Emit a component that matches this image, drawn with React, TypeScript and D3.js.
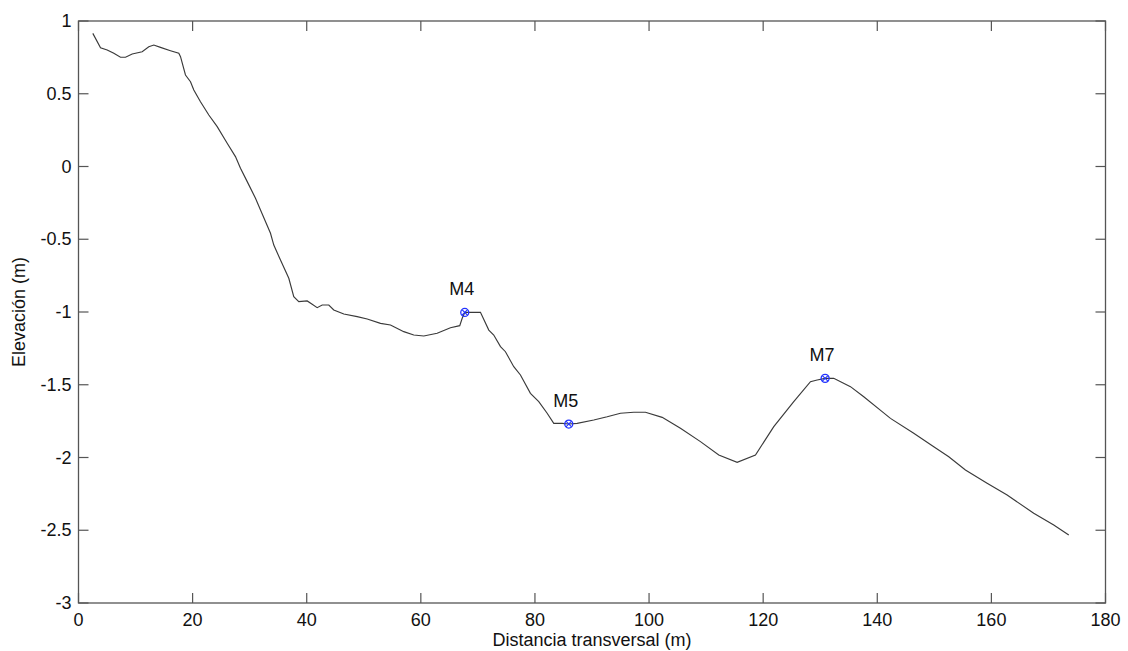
import React from "react";
import * as d3 from "d3";

const distance = [
  2.51, 3.86, 5.03, 6.19, 7.36, 8.24, 9.41, 11.16, 12.32, 13.2, 14.37, 16.12, 17.58, 17.88,
  18.75, 19.63, 20.21, 21.38, 22.84, 24.31, 26.06, 27.51, 28.39, 29.57, 31.02, 31.9, 33.65,
  34.23, 35.4, 36.86, 37.73, 38.61, 40.08, 40.96, 41.83, 42.71, 43.87, 44.74, 46.5, 48.84,
  50.6, 52.93, 54.68, 57.01, 58.76, 60.52, 62.86, 65.19, 66.82, 67.25, 67.7, 69.28, 70.45,
  71.91, 72.78, 73.96, 74.83, 76.29, 77.46, 79.21, 80.67, 82.14, 83.3, 84.77, 85.93, 87.4,
  90.31, 92.66, 94.99, 97.32, 99.37, 102.3, 105.5, 109.01, 112.22, 115.44, 118.65, 121.86,
  125.36, 128.29, 129.46, 130.86, 132.37, 135.3, 137.63, 140.85, 142.31, 146.39, 149.9,
  152.53, 155.45, 159.25, 162.76, 167.42, 170.93, 173.56,
];
const elevation = [
  0.915, 0.816, 0.801, 0.778, 0.751, 0.751, 0.773, 0.789, 0.823, 0.835, 0.819, 0.796, 0.778,
  0.755, 0.629, 0.583, 0.526, 0.445, 0.354, 0.274, 0.16, 0.068, -0.012, -0.104, -0.219,
  -0.299, -0.459, -0.54, -0.643, -0.768, -0.895, -0.929, -0.924, -0.947, -0.97, -0.952,
  -0.952, -0.986, -1.014, -1.032, -1.048, -1.078, -1.089, -1.135, -1.158, -1.165, -1.146,
  -1.108, -1.094, -1.043, -1.003, -1.003, -1.002, -1.124, -1.158, -1.238, -1.273, -1.376,
  -1.433, -1.559, -1.616, -1.696, -1.765, -1.765, -1.77, -1.765, -1.742, -1.72, -1.696,
  -1.689, -1.689, -1.724, -1.799, -1.891, -1.983, -2.033, -1.983, -1.788, -1.616, -1.479,
  -1.467, -1.456, -1.456, -1.513, -1.582, -1.685, -1.731, -1.834, -1.926, -1.995, -2.086,
  -2.177, -2.258, -2.383, -2.464, -2.533,
];

const markerNames = ["M4", "M5", "M7"];
const markerX = [67.7, 85.93, 130.86];
const markerY = [-1.003, -1.77, -1.456];

const xTicks = [0, 20, 40, 60, 80, 100, 120, 140, 160, 180];
const yTicks = [1, 0.5, 0, -0.5, -1, -1.5, -2, -2.5, -3];

const W = 1128;
const H = 651;
const M = { left: 78.5, right: 1105.5, top: 21, bottom: 603 };
const FONT = "'Liberation Sans', Arial, Helvetica, sans-serif";

export default function App() {
  const x = d3.scaleLinear().domain([0, 180]).range([M.left, M.right]);
  const y = d3.scaleLinear().domain([-3, 1]).range([M.bottom, M.top]);
  const pts = distance.map((d, i) => [d, elevation[i]] as [number, number]);
  const line = d3
    .line<[number, number]>()
    .x((d) => x(d[0]))
    .y((d) => y(d[1]));
  const axisColor = "#555";
  const tickLen = 10;
  const fs = 18;
  return (
    <svg
      width={W}
      height={H}
      style={{ position: "absolute", left: 0, top: 0, background: "#fff" }}
      fontFamily={FONT}
    >
      <rect x={0} y={0} width={W} height={H} fill="#fff" />
      {xTicks.map((t) => (
        <g key={"xt" + t}>
          <line x1={x(t)} x2={x(t)} y1={M.bottom} y2={M.bottom - tickLen} stroke={axisColor} strokeWidth={1.2} />
          <line x1={x(t)} x2={x(t)} y1={M.top} y2={M.top + tickLen} stroke={axisColor} strokeWidth={1.2} />
          <text x={x(t)} y={M.bottom + 23} fontSize={fs} textAnchor="middle" fill="#111">
            {t}
          </text>
        </g>
      ))}
      {yTicks.map((t) => (
        <g key={"yt" + t}>
          <line x1={M.left} x2={M.left + tickLen} y1={y(t)} y2={y(t)} stroke={axisColor} strokeWidth={1.2} />
          <line x1={M.right} x2={M.right - tickLen} y1={y(t)} y2={y(t)} stroke={axisColor} strokeWidth={1.2} />
          <text x={M.left - 7} y={y(t) + 6} fontSize={fs} textAnchor="end" fill="#111">
            {t}
          </text>
        </g>
      ))}
      <rect
        x={M.left}
        y={M.top}
        width={M.right - M.left}
        height={M.bottom - M.top}
        fill="none"
        stroke={axisColor}
        strokeWidth={1.3}
      />
      <path d={line(pts) || ""} fill="none" stroke="#3a3a3a" strokeWidth={1.15} />
      {markerNames.map((n, i) => {
        const cx = x(markerX[i]);
        const cy = y(markerY[i]);
        const r = 4;
        const k = r * 0.7;
        return (
          <g key={n}>
            <circle cx={cx} cy={cy} r={r} fill="none" stroke="#2233ff" strokeWidth={1.3} />
            <line x1={cx - k} y1={cy - k} x2={cx + k} y2={cy + k} stroke="#2233ff" strokeWidth={1.1} />
            <line x1={cx - k} y1={cy + k} x2={cx + k} y2={cy - k} stroke="#2233ff" strokeWidth={1.1} />
            <text x={cx - 3} y={cy - 17} fontSize={fs} textAnchor="middle" fill="#111">
              {n}
            </text>
          </g>
        );
      })}
      <text x={(M.left + M.right) / 2} y={646} fontSize={fs} textAnchor="middle" fill="#111">
        Distancia transversal (m)
      </text>
      <text
        transform={`translate(25, ${(M.top + M.bottom) / 2}) rotate(-90)`}
        fontSize={fs}
        textAnchor="middle"
        fill="#111"
      >
        Elevación (m)
      </text>
    </svg>
  );
}
